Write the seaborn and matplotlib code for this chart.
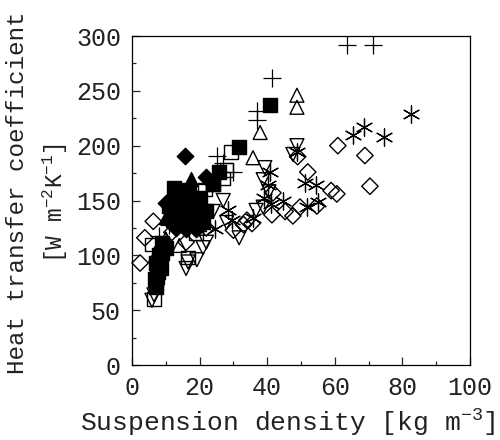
import pandas as pd
import matplotlib
matplotlib.use("Agg")
import matplotlib.pyplot as plt
import seaborn as sns

plus_x = [63.6, 71.3, 41.4, 37, 37, 25, 30, 27, 22, 11, 8, 14]
plus_y = [292, 292, 262, 232, 223, 191, 176, 184, 165, 128, 118, 142]

fsquare_x = [40.8, 31.7, 25.7, 24, 12.4, 13, 15, 18, 20, 22, 11, 12, 16, 19, 21, 14, 17,
             9, 10, 9, 8.4, 8, 7.8, 7.5, 7.2, 7, 6.8, 7, 8, 8.5]
fsquare_y = [237, 199, 176, 165, 161, 150, 155, 145, 152, 140, 145, 132, 128, 135, 130, 140, 160,
             111, 107, 102, 96, 90, 85, 80, 75, 71, 78, 93, 100, 88]

fdiamond_x = [15.7, 22, 12, 14, 17, 19, 13, 16, 19, 9, 10, 21]
fdiamond_y = [191, 171, 150, 140, 135, 148, 125, 124, 124, 108, 148, 138]

ftri_x = [17.5, 12, 15, 18, 21, 10, 14, 18]
ftri_y = [170, 160, 150, 155, 145, 135, 130, 132]

otri_x = [48.8, 48.8, 37.9, 35.8, 14, 10, 7, 20]
otri_y = [246, 235, 212, 189, 109, 115, 100, 128]

osquare_x = [29.3, 28, 21.6, 24, 5.9, 16.6, 6.5, 19, 27]
osquare_y = [194, 178, 160, 165, 110, 98, 60, 120, 170]

dtri_x = [5.9, 6.5, 16.6, 19.2, 21, 22, 31.7, 28, 48.8, 47.6, 39.3, 38.8, 38.8, 36.7, 16, 27, 24, 40.5]
dtri_y = [59, 64, 94, 96, 107, 112, 116, 130, 200, 192, 180, 169, 144, 141, 88, 150, 140, 158]

odiamond_x = [2.4, 3.8, 6.3, 11.8, 16, 70.4, 68.9, 60.9, 60.6, 58.9, 49, 52, 54.7, 49.7, 47.6, 45.3, 41.4, 41.7, 35.5, 33, 30, 34, 22, 18]
odiamond_y = [93, 116, 131, 121, 112, 163, 191, 200, 156, 159, 190, 176, 145, 144, 136, 140, 137, 157, 129, 128, 123, 132, 125, 128]

star_x = [82.5, 74.6, 68.6, 65.4, 54.4, 51.2, 44.7, 40.8, 40.3, 51.8, 55, 35.8, 48.8, 24.6, 28.4, 29.6, 39, 41, 14]
star_y = [229, 208, 217, 210, 164, 166, 150, 176, 164, 144, 149, 134, 194, 124, 141, 132, 152, 147, 145]

x_major = [0, 20, 40, 60, 80, 100]
y_major = [0, 50, 100, 150, 200, 250, 300]

series = [
    ("plus", plus_x, plus_y, "+"),
    ("open_tri", otri_x, otri_y, "^"),
    ("open_square", osquare_x, osquare_y, "s"),
    ("down_tri", dtri_x, dtri_y, "v"),
    ("open_diamond", odiamond_x, odiamond_y, "D"),
    ("star", star_x, star_y, (6, 2, 0)),
    ("filled_tri", ftri_x, ftri_y, "^"),
    ("filled_diamond", fdiamond_x, fdiamond_y, "D"),
    ("filled_square", fsquare_x, fsquare_y, "s"),
]
sizes = {"+": 170, "^": 100, "v": 100, "s": 95, "D": 70, (6, 2, 0): 150}

sns.set_style("white")
plt.rcParams["font.family"] = ["Liberation Mono", "DejaVu Sans Mono"]
plt.rcParams["mathtext.fontset"] = "custom"
plt.rcParams["mathtext.rm"] = "Liberation Mono"
plt.rcParams["mathtext.default"] = "rm"

fig = plt.figure(figsize=(5, 4.4), dpi=100)
ax = fig.add_axes([132 / 500, 1 - 365 / 440, 338 / 500, 329 / 440])

for name, xs, ys, marker in series:
    d = pd.DataFrame({"x": xs, "y": ys})
    filled = name.startswith("filled")
    fc = "black" if filled else "none"
    lw = 1.0
    if marker in ("+", (6, 2, 0)):
        fc = "black"
        lw = 0.9
    sns.scatterplot(data=d, x="x", y="y", marker=marker, s=sizes[marker],
                    facecolor=fc, edgecolor="black", linewidth=lw, ax=ax, clip_on=False)

ax.set_xlim(0, 100)
ax.set_ylim(0, 300)
ax.set_xticks(x_major)
ax.set_yticks(y_major)
ax.set_xticks([10, 30, 50, 70, 90], minor=True)
ax.set_yticks([25, 75, 125, 175, 225, 275], minor=True)
ax.tick_params(which="major", direction="in", length=6, width=0.9, labelsize=18, pad=8,
               bottom=True, left=True, labelcolor="#222222")
ax.tick_params(which="minor", direction="in", length=3, width=0.9, bottom=True, left=True)
for t in ax.get_yticklabels():
    t.set_va("center_baseline")
for s in ax.spines.values():
    s.set_visible(True)
    s.set_color("black")
    s.set_linewidth(0.9)

ax.set_xlabel("")
ax.set_ylabel("")
fig.text(288 / 500, 1 - 423 / 440, "Suspension density [kg m$^{-3}$]", fontsize=19,
         ha="center", va="center", color="#222222")
fig.text(18 / 500, 1 - 193 / 440, "Heat transfer coefficient", fontsize=17.5,
         rotation=90, ha="center", va="center", color="#222222")
fig.text(55 / 500, 1 - 203 / 440, "[W m$^{-2}$K$^{-1}$]", fontsize=16.5,
         rotation=90, ha="center", va="center", color="#222222")

fig.savefig("out.png", dpi=100)
